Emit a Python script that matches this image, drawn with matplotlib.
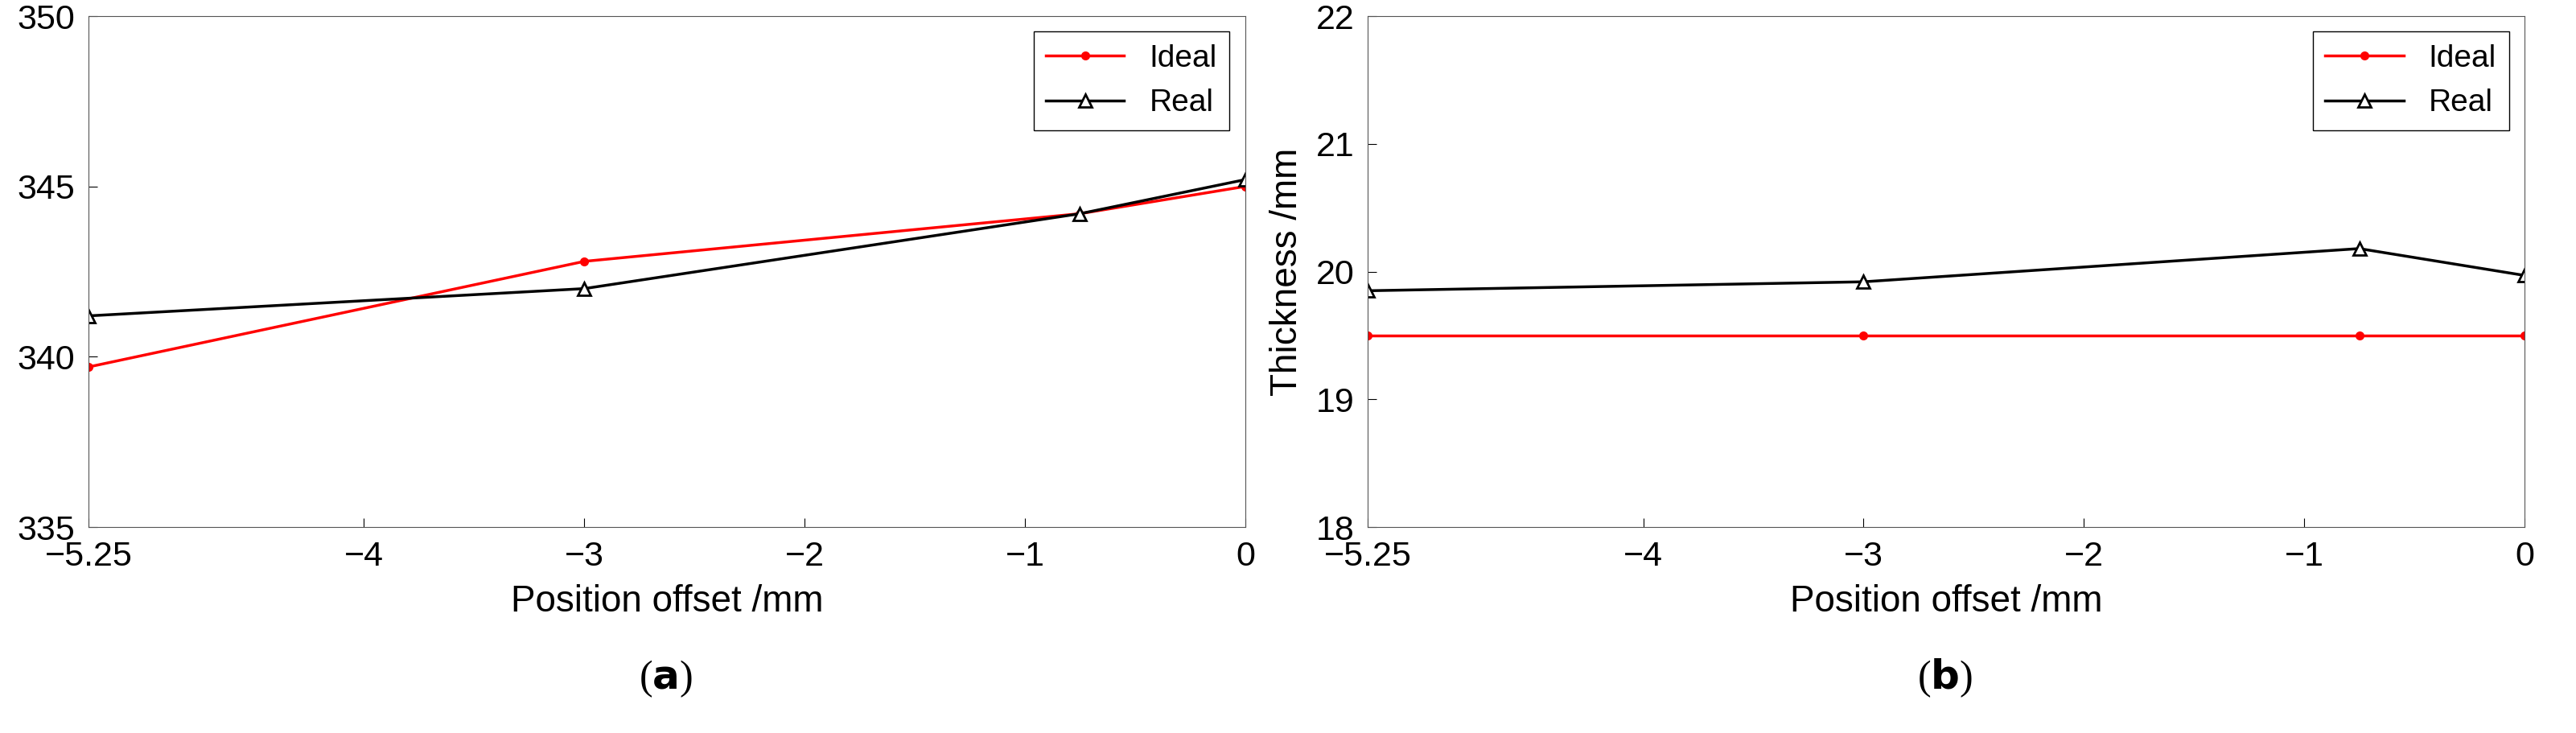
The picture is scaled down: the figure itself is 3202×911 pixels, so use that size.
import matplotlib.pyplot as plt

plt.rcParams['font.family'] = ['Liberation Sans', 'DejaVu Sans']

offsets = [-5.25, -3, -0.75, 0]
radius_ideal = [339.7, 342.8, 344.2, 345.0]
radius_real = [341.2, 342.0, 344.2, 345.2]
thick_ideal = [19.5, 19.5, 19.5, 19.5]
thick_real = [19.85, 19.92, 20.18, 19.97]
xticks = [-5.25, -4, -3, -2, -1, 0]
xtick_labels = ['\u22125.25', '\u22124', '\u22123', '\u22122', '\u22121', '0']

fig = plt.figure(figsize=(32.02, 9.11), dpi=100)
ax1 = fig.add_axes([0.0344, 0.281, 0.449, 0.697])
ax2 = fig.add_axes([0.531, 0.281, 0.449, 0.697])

panels = [
    (ax1, radius_ideal, radius_real, (335, 350), [335, 340, 345, 350], 'Middle radius /mm', 'a', 0.2585),
    (ax2, thick_ideal, thick_real, (18, 22), [18, 19, 20, 21, 22], 'Thickness /mm', 'b', 0.755),
]
for ax, ideal, real, ylim, yticks, ylabel, tag, tx in panels:
    ax.plot(offsets, ideal, color='red', marker='o', markersize=7, lw=2.5, label='Ideal')
    ax.plot(offsets, real, color='black', marker='^', markersize=11, lw=2.5,
            markerfacecolor='white', markeredgecolor='black', markeredgewidth=2, label='Real')
    ax.set_xlim(-5.25, 0)
    ax.set_ylim(*ylim)
    ax.set_xticks(xticks)
    ax.set_xticklabels(xtick_labels)
    ax.set_yticks(yticks)
    ax.tick_params(labelsize=31, direction='in', length=8, pad=12)
    ax.set_xlabel('Position offset /mm', fontsize=33, labelpad=10)
    ax.set_ylabel(ylabel, fontsize=33, labelpad=10)
    ax.legend(loc='upper right', fontsize=28, fancybox=False, edgecolor='black',
              framealpha=1, handlelength=2.5)
    for s in ax.spines.values():
        s.set_color('#555555')
    fig.text(tx, 0.06, r'($\mathbf{%s}$)' % tag, fontsize=36, ha='center',
             family='Liberation Serif')

fig.savefig('out.png', dpi=100)
